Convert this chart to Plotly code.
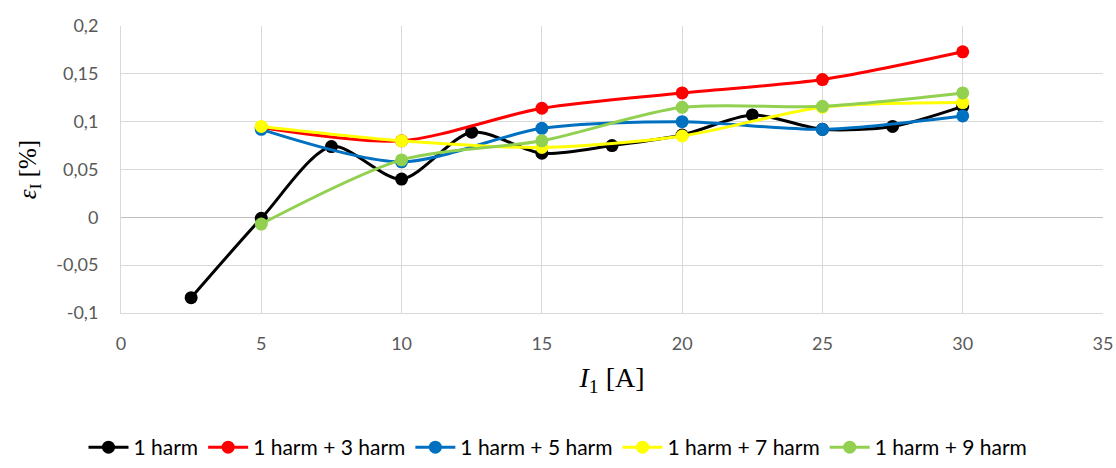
import plotly.graph_objects as go

# Data
x_h1 = [2.5, 5, 7.5, 10, 12.5, 15, 17.5, 20, 22.5, 25, 27.5, 30]
y_h1 = [-0.084, -0.001, 0.074, 0.040, 0.089, 0.067, 0.075, 0.086, 0.107, 0.092, 0.095, 0.116]

x_other = [5, 10, 15, 20, 25, 30]
y_h3 = [0.094, 0.080, 0.114, 0.130, 0.144, 0.173]
y_h5 = [0.092, 0.058, 0.093, 0.100, 0.092, 0.106]
y_h7 = [0.095, 0.080, 0.073, 0.085, 0.115, 0.120]
y_h9 = [-0.007, 0.060, 0.080, 0.115, 0.116, 0.130]

names = ["1 harm", "1 harm + 3 harm", "1 harm + 5 harm", "1 harm + 7 harm", "1 harm + 9 harm"]
colors = ["#000000", "#ff0000", "#0070c0", "#ffff00", "#92d050"]

x_ticks = [0, 5, 10, 15, 20, 25, 30, 35]
y_ticks = [-0.1, -0.05, 0, 0.05, 0.1, 0.15, 0.2]
y_ticklabels = ["-0,1", "-0,05", "0", "0,05", "0,1", "0,15", "0,2"]

series = [
    (x_h1, y_h1),
    (x_other, y_h3),
    (x_other, y_h5),
    (x_other, y_h7),
    (x_other, y_h9),
]

fig = go.Figure()
for (xs, ys), name, col in zip(series, names, colors):
    fig.add_trace(go.Scatter(
        x=xs, y=ys, name=name, mode="lines+markers",
        line=dict(color=col, width=3, shape="spline", smoothing=0.8),
        marker=dict(color=col, size=13),
    ))

tick_font = dict(family="Lato, Open Sans, sans-serif", size=18, color="#595959")

fig.update_layout(
    width=1116, height=468,
    paper_bgcolor="white", plot_bgcolor="white",
    margin=dict(l=121, r=13, t=26, b=155, autoexpand=False),
    showlegend=True,
    legend=dict(
        orientation="h", x=0.5, xanchor="center", xref="container",
        y=0.0, yanchor="bottom", yref="container",
        font=dict(family="Lato, Open Sans, sans-serif", size=21, color="#000000"),
        itemwidth=40, tracegroupgap=0,
    ),
    xaxis=dict(
        range=[0, 35], tickvals=x_ticks, ticktext=[str(v) for v in x_ticks],
        showgrid=True, gridcolor="#d9d9d9", gridwidth=1,
        showline=True, linecolor="#d9d9d9", linewidth=1,
        zeroline=False, ticks="", tickfont=tick_font, ticklabelstandoff=14,
        automargin=False,
        title=dict(text="<i>I</i><sub>1</sub> [A]",
                   font=dict(family="Liberation Serif, serif", size=28, color="#000000"),
                   standoff=14),
    ),
    yaxis=dict(
        range=[-0.1, 0.2], tickvals=y_ticks, ticktext=y_ticklabels,
        showgrid=True, gridcolor="#d9d9d9", gridwidth=1,
        showline=True, linecolor="#d9d9d9", linewidth=1,
        zeroline=True, zerolinecolor="#bfbfbf", zerolinewidth=1,
        ticks="", tickfont=tick_font, ticklabelstandoff=18,
        automargin=False,
        title=dict(text="<i>ε</i><sub>I</sub> [%]",
                   font=dict(family="Liberation Serif, serif", size=25, color="#000000"),
                   standoff=12),
    ),
)

fig.write_html("out.html")
